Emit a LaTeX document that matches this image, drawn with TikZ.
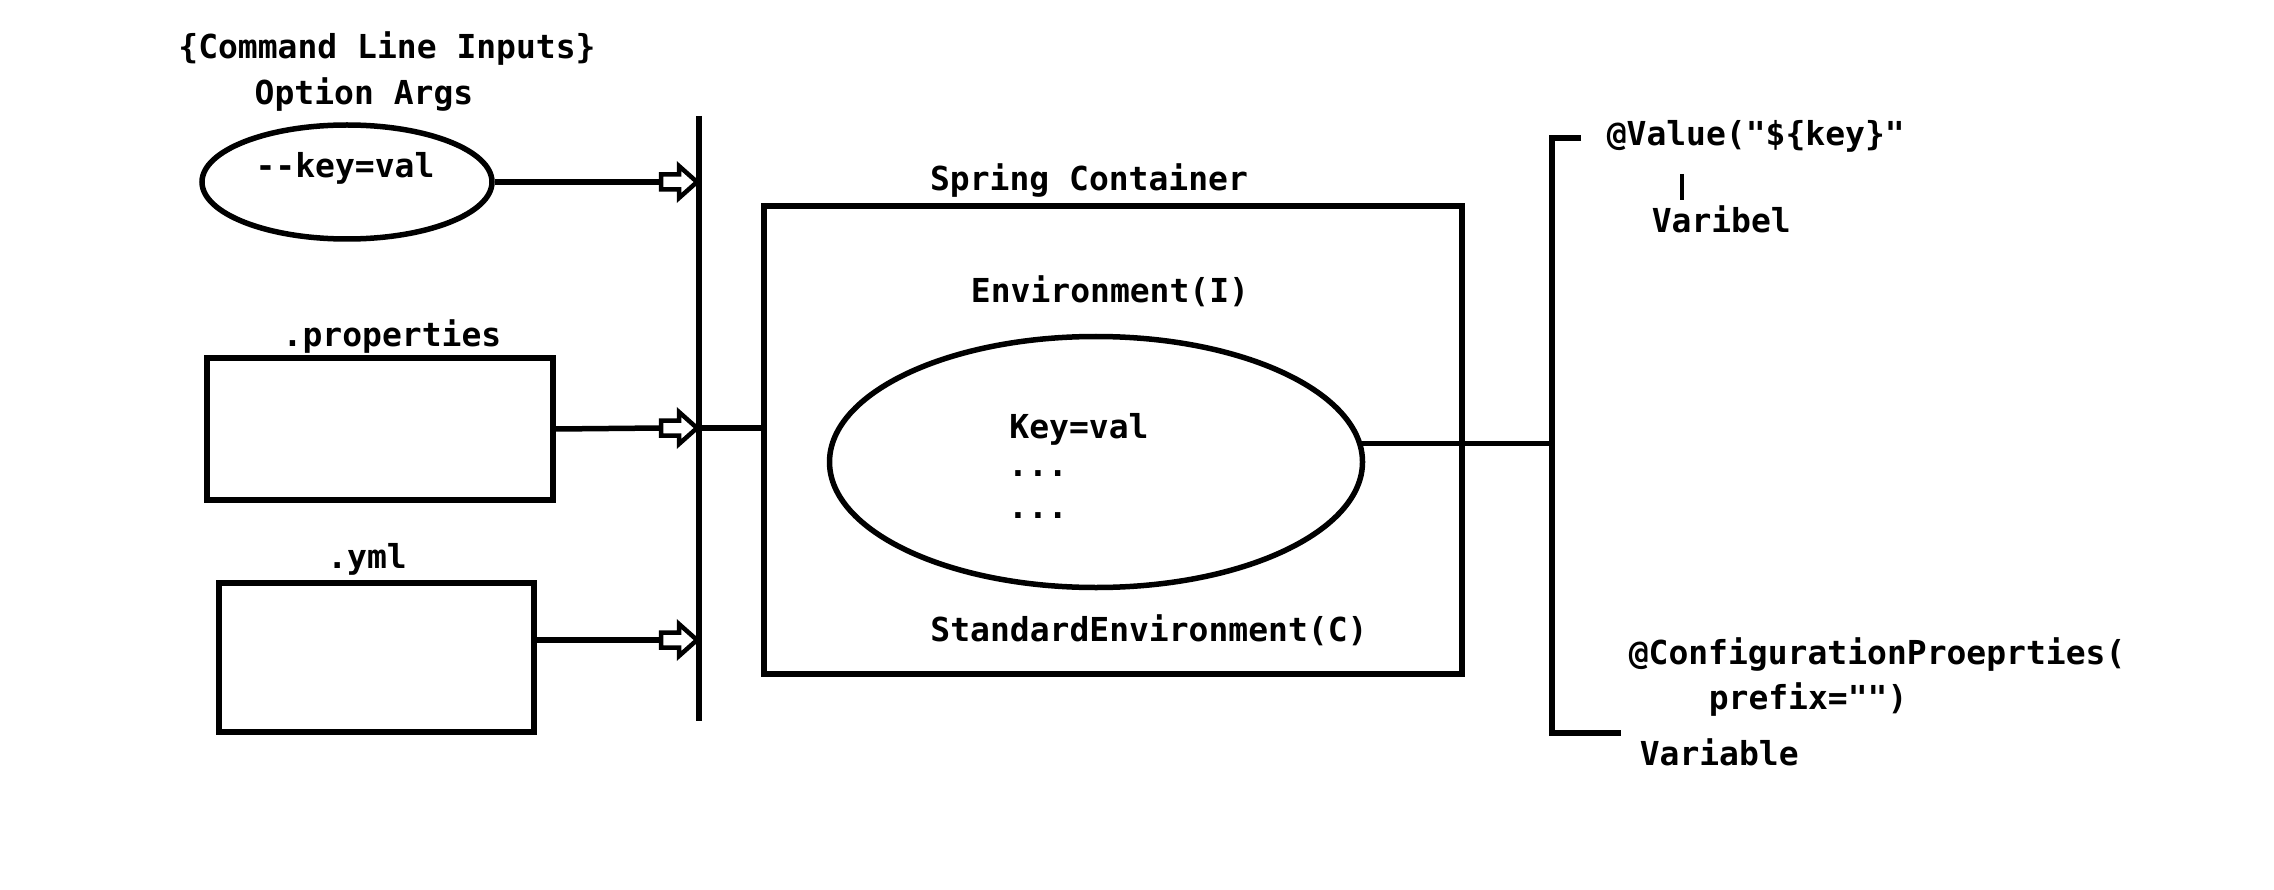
\documentclass[tikz,border=0pt]{standalone}
\usepackage{fontspec}
\setmonofont{DejaVu Sans Mono}
\usetikzlibrary{shapes.geometric}
\newcommand\hollowarrow[1]{\draw[line width=4.5pt, line join=miter] (#1) ++(-36,-7.5) -- ++(18,0) -- ++(0,-8.5) -- ++(18,16) -- ++(-18,16) -- ++(0,-8.5) -- ++(-18,0) -- cycle;}
\begin{document}
\begin{tikzpicture}[x=1pt,y=-1pt, line width=5.5pt,
  lbl/.style={font=\fontsize{33}{38}\selectfont\ttfamily\bfseries, inner sep=0pt},
  oval/.style={draw, ellipse, inner sep=0pt},
  box/.style={draw, rectangle, inner sep=0pt}]
\useasboundingbox[fill=white] (0,0) rectangle (2274,890);

% left inputs
\node[lbl] (cli) at (387,49) {\{Command Line Inputs\}};
\node[lbl] (optargs) at (364,95) {Option Args};
\node[oval, minimum width=290pt, minimum height=114pt] (opt) at (347,182) {};
\node[lbl] (optk) at (345,168) {--key=val};

\node[lbl] (propl) at (392,337) {.properties};
\node[box, minimum width=346pt, minimum height=142pt] (props) at (380,429) {};

\node[lbl] (ymll) at (367,559) {.yml};
\node[box, minimum width=315pt, minimum height=149pt] (yml) at (376.5,657.5) {};

% left bus
\coordinate (busTop) at (699,116);
\coordinate (busBot) at (699,721);
\draw (busTop) -- (busBot);

\coordinate (a1) at (697,182);  \coordinate (a1t) at (661,182);
\coordinate (a2) at (697,428);  \coordinate (a2t) at (661,428);
\coordinate (a3) at (697,640);  \coordinate (a3t) at (661,640);
\draw (opt.east) -- (a1t);
\draw (props.east) -- (a2t);
\draw (yml.east |- a3t) -- (a3t);
\hollowarrow{a1}
\hollowarrow{a2}
\hollowarrow{a3}

% container
\node[lbl] (spring) at (1089,181) {Spring Container};
\node[box, minimum width=698pt, minimum height=468pt] (cont) at (1113,440) {};
\coordinate (busMid) at (699,428);
\draw (busMid) -- (cont.west |- busMid);
\node[lbl] (envi) at (1110,291) {Environment(I)};
\node[oval, minimum width=533pt, minimum height=251pt] (env) at (1096,462) {};
\node[lbl] (kv) at (1079,429) {Key=val};
\node[lbl] (d1) at (1038,474) {...};
\node[lbl] (d2) at (1038,516) {...};
\node[lbl] (stdenv) at (1149,630) {StandardEnvironment(C)};

% right bus
\coordinate (rTop) at (1552,138);
\coordinate (rBot) at (1552,733);
\coordinate (rTopEnd) at (1581,138);
\coordinate (rBotEnd) at (1621,733);
\draw (rTopEnd) -- (rTop) -- (rBot) -- (rBotEnd);
\draw (env.4) -- (env.4 -| rTop);

\node[lbl, anchor=west] (value) at (1604,136) {@Value("\$\{key\}"};
\coordinate (tickTop) at (1682,174);
\coordinate (tickBot) at (1682,200);
\draw[line width=4.5pt] (tickTop) -- (tickBot);
\node[lbl, anchor=west] (varibel) at (1649,219) {Varibel};

\node[lbl, anchor=west] (cfg) at (1626,655) {@ConfigurationProeprties(};
\node[lbl, anchor=west] (prefix) at (1706,700) {prefix="")};
\node[lbl, anchor=west] (variable) at (1637,752) {Variable};
\end{tikzpicture}
\end{document}
